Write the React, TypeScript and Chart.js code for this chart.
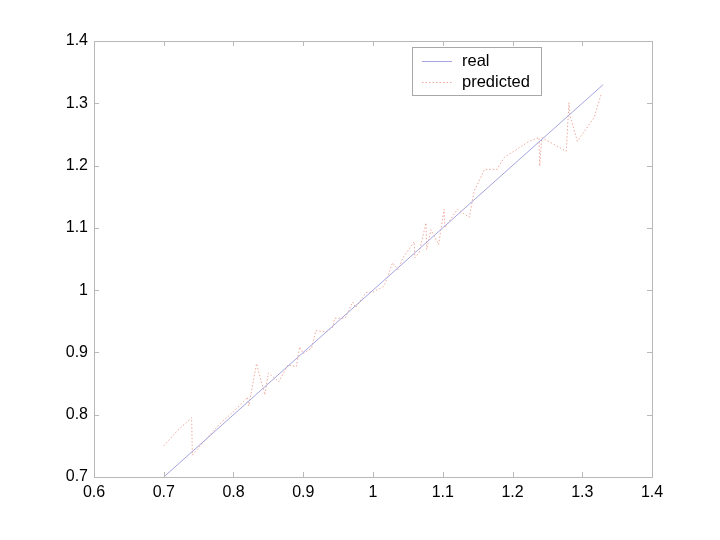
import React, { useEffect, useRef } from "react";
import { Chart, registerables } from "chart.js";

Chart.register(...registerables);

const realX = [0.7, 1.33];
const realY = [0.7, 1.33];

const predX = [0.70, 0.72, 0.74, 0.741, 0.76, 0.78, 0.80, 0.82, 0.822, 0.833, 0.845, 0.85, 0.865, 0.878, 0.89, 0.895, 0.90, 0.912, 0.918, 0.933, 0.942, 0.945, 0.96, 0.971, 0.975, 0.99, 1.0, 1.014, 1.018, 1.028, 1.036, 1.043, 1.059, 1.06, 1.066, 1.076, 1.077, 1.083, 1.094, 1.102, 1.103, 1.121, 1.138, 1.145, 1.16, 1.178, 1.188, 1.224, 1.238, 1.239, 1.242, 1.277, 1.281, 1.282, 1.293, 1.317, 1.327];
const predY = [0.75, 0.775, 0.795, 0.735, 0.76, 0.785, 0.805, 0.828, 0.814, 0.882, 0.832, 0.867, 0.853, 0.88, 0.877, 0.909, 0.898, 0.907, 0.935, 0.933, 0.94, 0.955, 0.955, 0.981, 0.972, 0.996, 0.997, 1.005, 1.012, 1.044, 1.033, 1.052, 1.078, 1.052, 1.06, 1.108, 1.065, 1.097, 1.073, 1.13, 1.10, 1.13, 1.117, 1.159, 1.194, 1.194, 1.213, 1.239, 1.245, 1.199, 1.245, 1.223, 1.301, 1.282, 1.239, 1.277, 1.314];

const seriesNames = ["real", "predicted"];
const seriesColors = ["#a4a4e0", "#eeaa9c"];
const seriesDashes: number[][] = [[], [1.5, 2]];
const AXIS_COLOR = "#b8b8b8";
const FONT = "Liberation Sans, Arial, sans-serif";
const FONT_SIZE = 16;
const LEGEND_FONT_SIZE = 16.5;

const fmt = (v: number) => String(Number(Number(v).toFixed(1)));

const boxPlugin = {
  id: "matlabBox",
  afterDraw(chart: any) {
    const { ctx, chartArea: a, scales } = chart;
    const xs = scales.x;
    const ys = scales.y;
    ctx.save();
    ctx.strokeStyle = AXIS_COLOR;
    ctx.lineWidth = 1;
    ctx.strokeRect(Math.round(a.left) + 0.5, Math.round(a.top) + 0.5, Math.round(a.right - a.left), Math.round(a.bottom - a.top));
    const tl = 5;
    ctx.beginPath();
    xs.ticks.forEach((t: any) => {
      const px = Math.round(xs.getPixelForValue(t.value)) + 0.5;
      ctx.moveTo(px, a.bottom);
      ctx.lineTo(px, a.bottom - tl);
      ctx.moveTo(px, a.top);
      ctx.lineTo(px, a.top + tl);
    });
    ys.ticks.forEach((t: any) => {
      const py = Math.round(ys.getPixelForValue(t.value)) + 0.5;
      ctx.moveTo(a.left, py);
      ctx.lineTo(a.left + tl, py);
      ctx.moveTo(a.right, py);
      ctx.lineTo(a.right - tl, py);
    });
    ctx.stroke();

    // legend box
    const lx = 412, ly = 47, lw = 129, lh = 48;
    ctx.fillStyle = "#ffffff";
    ctx.fillRect(lx, ly, lw, lh);
    ctx.strokeStyle = "#a8a8a8";
    ctx.strokeRect(lx + 0.5, ly + 0.5, lw, lh);
    ctx.font = LEGEND_FONT_SIZE + "px " + FONT;
    ctx.textBaseline = "middle";
    const rows = [ly + 14, ly + 35];
    seriesNames.forEach((name, i) => {
      const y = rows[i] + 0.5;
      ctx.strokeStyle = seriesColors[i];
      ctx.lineWidth = 1;
      ctx.setLineDash(seriesDashes[i]);
      ctx.beginPath();
      ctx.moveTo(lx + 10, y);
      ctx.lineTo(lx + 40, y);
      ctx.stroke();
      ctx.setLineDash([]);
      ctx.fillStyle = "#000";
      ctx.fillText(name, lx + 50, rows[i]);
    });
    ctx.restore();
  },
};

export default function App() {
  const ref = useRef<HTMLCanvasElement | null>(null);
  useEffect(() => {
    document.body.style.margin = "0";
    if (!ref.current) return;
    const chart = new Chart(ref.current, {
      type: "scatter",
      data: {
        datasets: [
          {
            label: seriesNames[0],
            data: realX.map((x, i) => ({ x, y: realY[i] })),
            showLine: true,
            borderColor: seriesColors[0],
            borderWidth: 1,
            pointRadius: 0,
            fill: false,
          },
          {
            label: seriesNames[1],
            data: predX.map((x, i) => ({ x, y: predY[i] })),
            showLine: true,
            borderColor: seriesColors[1],
            borderWidth: 1,
            borderDash: seriesDashes[1],
            pointRadius: 0,
            fill: false,
          },
        ],
      },
      options: {
        animation: false,
        responsive: false,
        maintainAspectRatio: false,
        layout: { padding: { left: 0, right: 68, top: 41, bottom: 0 } },
        plugins: { legend: { display: false }, tooltip: { enabled: false } },
        scales: {
          x: {
            type: "linear",
            min: 0.6,
            max: 1.4,
            ticks: { stepSize: 0.1, color: "#000", font: { family: FONT, size: FONT_SIZE }, padding: 6, callback: (v: any) => fmt(v), maxRotation: 0 },
            grid: { display: true, drawOnChartArea: false, drawTicks: false, tickLength: 0 },
            border: { display: false },
            afterFit: (s: any) => { s.height = 63; },
          },
          y: {
            type: "linear",
            min: 0.7,
            max: 1.4,
            ticks: { stepSize: 0.1, color: "#000", font: { family: FONT, size: FONT_SIZE }, padding: 6, callback: (v: any) => fmt(v) },
            grid: { display: true, drawOnChartArea: false, drawTicks: false, tickLength: 0 },
            border: { display: false },
            afterFit: (s: any) => { s.width = 94; },
          },
        },
      },
      plugins: [boxPlugin],
    });
    return () => chart.destroy();
  }, []);
  return (
    <div style={{ width: 720, height: 540, background: "#fff" }}>
      <canvas ref={ref} width={720} height={540} style={{ display: "block" }} />
    </div>
  );
}
